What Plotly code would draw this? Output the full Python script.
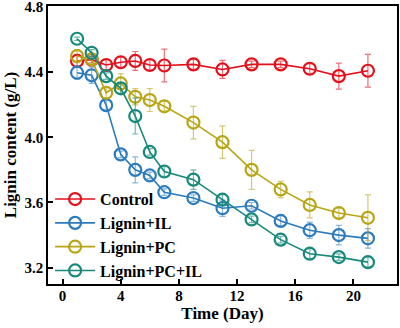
import plotly.graph_objects as go

days = [1, 2, 3, 4, 5, 6, 7, 9, 11, 13, 15, 17, 19, 21]

control = [4.468, 4.476, 4.443, 4.46, 4.468, 4.443, 4.44, 4.447, 4.416, 4.447, 4.447, 4.42, 4.375, 4.408]
control_err = [0.04, 0.02, 0.03, 0.03, 0.058, 0.03, 0.1, 0.03, 0.055, 0.02, 0.02, 0.03, 0.08, 0.1]

lignin_il = [4.396, 4.38, 4.197, 3.895, 3.80, 3.766, 3.663, 3.627, 3.565, 3.58, 3.487, 3.43, 3.40, 3.38]
lignin_il_err = [0.04, 0.05, 0.03, 0.02, 0.08, 0.02, 0.02, 0.02, 0.05, 0.02, 0.03, 0.05, 0.06, 0.06]

lignin_pc = [4.498, 4.478, 4.273, 4.33, 4.248, 4.228, 4.19, 4.09, 3.97, 3.80, 3.68, 3.585, 3.535, 3.506]
lignin_pc_err = [0.04, 0.03, 0.03, 0.06, 0.05, 0.07, 0.03, 0.1, 0.1, 0.12, 0.05, 0.08, 0.03, 0.14]

lignin_pc_il = [4.604, 4.518, 4.375, 4.30, 4.13, 3.91, 3.79, 3.74, 3.617, 3.496, 3.372, 3.286, 3.265, 3.234]
lignin_pc_il_err = [0.01, 0.02, 0.02, 0.03, 0.11, 0.02, 0.03, 0.06, 0.03, 0.02, 0.02, 0.03, 0.02, 0.03]

x_ticks = [0, 4, 8, 12, 16, 20]
y_ticks = [3.2, 3.6, 4.0, 4.4, 4.8]
y_tick_labels = ["3.2", "3.6", "4.0", "4.4", "4.8"]

series = [
    ("Control", control, control_err, "#e3101c", "rgba(227,16,28,0.6)"),
    ("Lignin+IL", lignin_il, lignin_il_err, "#2c7bbd", "rgba(44,123,189,0.55)"),
    ("Lignin+PC", lignin_pc, lignin_pc_err, "#b9a514", "rgba(185,165,20,0.6)"),
    ("Lignin+PC+IL", lignin_pc_il, lignin_pc_il_err, "#16897a", "rgba(22,137,122,0.6)"),
]

font_family = "Liberation Serif"
bold = dict(family=font_family, size=15, color="black", weight="bold")

fig = go.Figure()
for name, vals, errs, color, ecolor in series:
    fig.add_trace(go.Scatter(
        x=days, y=vals, name=name, mode="lines+markers",
        line=dict(color=color, width=1.6),
        marker=dict(symbol="circle-open", size=12, color=color, line=dict(width=2.2, color=color)),
        error_y=dict(type="data", array=errs, visible=True, color=ecolor, thickness=1.2, width=3),
    ))

fig.update_layout(
    width=400, height=328,
    margin=dict(l=48, r=3, t=6, b=44),
    plot_bgcolor="white", paper_bgcolor="white",
    font=dict(family=font_family, size=15, color="black"),
    showlegend=True,
    legend=dict(x=0.006, y=-0.015, xanchor="left", yanchor="bottom",
                bgcolor="rgba(0,0,0,0)",
                font=dict(family=font_family, size=16, color="black", weight="bold"),
                itemwidth=40, tracegroupgap=0),
    xaxis=dict(
        range=[-1, 23], tickvals=x_ticks, ticktext=[str(v) for v in x_ticks],
        ticks="inside", ticklen=5, tickwidth=1.5, tickcolor="black",
        showline=True, linecolor="black", linewidth=1.5, mirror=True, showgrid=False, zeroline=False,
        title=dict(text="Time (Day)", font=dict(family=font_family, size=17, weight="bold"), standoff=2),
        tickfont=bold, ticklabelstandoff=-3, ticklabeloverflow="allow", automargin=False,
    ),
    yaxis=dict(
        range=[3.1, 4.805], tickvals=y_ticks, ticktext=y_tick_labels,
        ticks="inside", ticklen=5, tickwidth=1.5, tickcolor="black",
        showline=True, linecolor="black", linewidth=1.5, mirror=True, showgrid=False, zeroline=False,
        title=dict(text="Lignin content (g/L)", font=dict(family=font_family, size=17, weight="bold"), standoff=4),
        tickfont=bold, ticklabeloverflow="allow", automargin=False,
    ),
)

fig.write_html("out.html", config={"displayModeBar": False},
               post_script="document.body.style.margin='0';")
